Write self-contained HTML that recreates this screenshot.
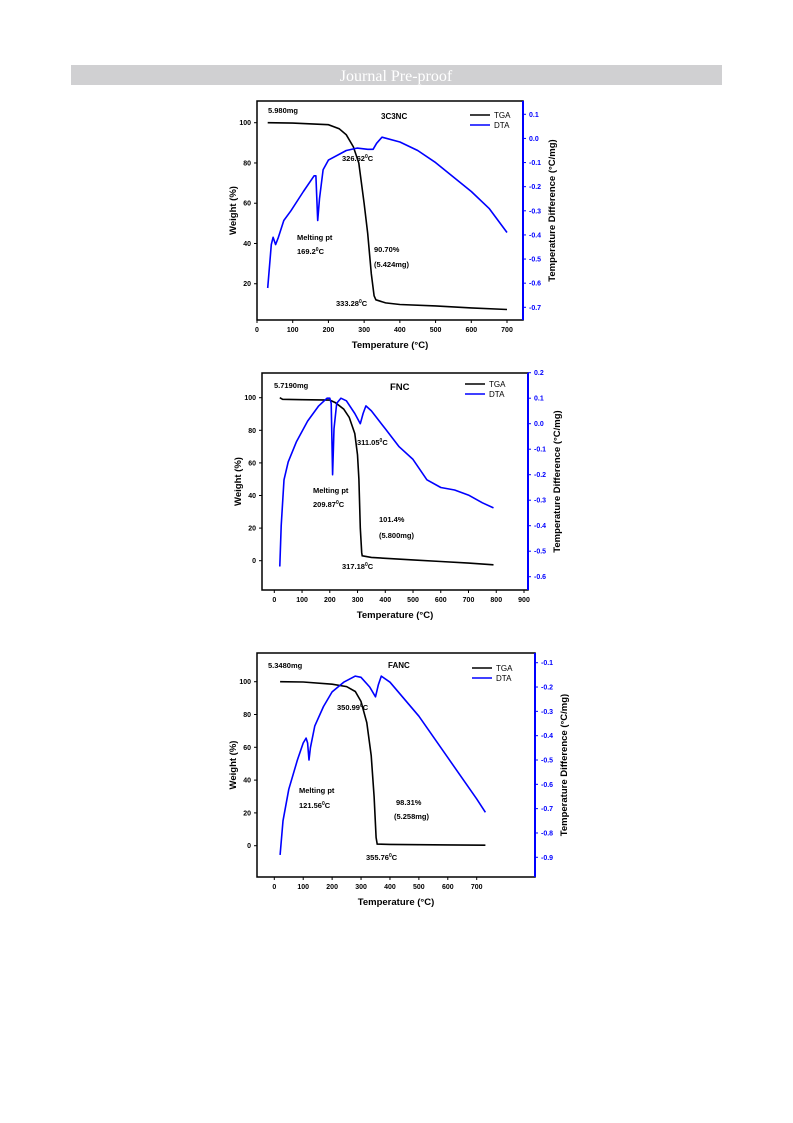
<!DOCTYPE html>
<html><head><meta charset="utf-8"><style>
body{margin:0;background:#fff;}
svg{display:block;font-family:"Liberation Sans",Arial,sans-serif;}
</style></head><body>
<svg id="page" width="793" height="1123" viewBox="0 0 793 1123">
<rect x="71" y="65" width="651" height="20" fill="#d0d0d2"/>
<text x="396" y="81" text-anchor="middle" fill="#fff" font-family="Liberation Serif,serif" font-size="16">Journal Pre-proof</text>
<g id="charts"></g>
</svg>
<script>
// ---- Chart 1: 3C3NC ----
const c1TgaT=[30,100,200,230,250,270,285,300,310,320,328,333,360,400,500,600,700];
const c1TgaW=[100,99.8,99,97,94,88,80,60,45,25,14,12,10.5,9.7,9,8,7.2];
const c1DtaT=[30,40,45,52,60,75,95,130,160,165,170,175,185,200,250,280,310,325,335,350,400,450,500,600,650,700];
const c1DtaV=[-0.62,-0.44,-0.41,-0.44,-0.41,-0.34,-0.3,-0.22,-0.155,-0.155,-0.34,-0.25,-0.13,-0.09,-0.05,-0.04,-0.045,-0.045,-0.02,0.005,-0.015,-0.05,-0.1,-0.22,-0.29,-0.39];
const c1XTicks=[0,100,200,300,400,500,600,700];
const c1YTicks=[20,40,60,80,100];
const c1RTicks=[0.1,0.0,-0.1,-0.2,-0.3,-0.4,-0.5,-0.6,-0.7];
// ---- Chart 2: FNC ----
const c2TgaT=[20,30,100,200,220,250,270,290,300,305,310,315,317,350,400,500,600,700,790];
const c2TgaW=[100,99,98.8,98.5,97,93,88,78,65,50,20,5,3,2,1.5,0.5,-0.5,-1.5,-2.5];
const c2DtaT=[20,25,35,50,80,120,160,190,200,205,210,215,225,240,260,290,310,320,330,350,400,450,500,550,600,650,700,750,790];
const c2DtaV=[-0.56,-0.4,-0.22,-0.15,-0.07,0.01,0.07,0.1,0.1,0.08,-0.2,-0.02,0.08,0.1,0.09,0.04,0.0,0.04,0.07,0.05,-0.02,-0.09,-0.14,-0.22,-0.25,-0.26,-0.28,-0.31,-0.33];
const c2XTicks=[0,100,200,300,400,500,600,700,800,900];
const c2YTicks=[0,20,40,60,80,100];
const c2RTicks=[0.2,0.1,0.0,-0.1,-0.2,-0.3,-0.4,-0.5,-0.6];
// ---- Chart 3: FANC ----
const c3TgaT=[20,100,200,250,280,300,320,335,345,352,356,400,600,730];
const c3TgaW=[100,99.8,98.5,97,94,88,75,55,30,5,1,0.8,0.5,0.3];
const c3DtaT=[20,30,50,80,100,110,115,120,125,140,170,200,240,280,300,330,350,360,370,400,500,600,700,730];
const c3DtaV=[-0.89,-0.75,-0.62,-0.5,-0.43,-0.41,-0.43,-0.5,-0.45,-0.36,-0.28,-0.22,-0.18,-0.155,-0.16,-0.2,-0.24,-0.19,-0.155,-0.18,-0.32,-0.49,-0.66,-0.715];
const c3XTicks=[0,100,200,300,400,500,600,700];
const c3YTicks=[0,20,40,60,80,100];
const c3RTicks=[-0.1,-0.2,-0.3,-0.4,-0.5,-0.6,-0.7,-0.8,-0.9];

const NS="http://www.w3.org/2000/svg";
const root=document.getElementById('charts');
function mk(tag,attrs,parent,txt){const e=document.createElementNS(NS,tag);for(const k in attrs)e.setAttribute(k,attrs[k]);if(txt!==undefined)e.textContent=txt;parent.appendChild(e);return e;}
function fmt(v){return (Math.abs(v)<1e-9?'0.0':v.toFixed(1));}

function drawChart(cfg){
  const g=mk('g',{},root);
  
  
  const sx=t=>cfg.x0+(t-cfg.xa)*(cfg.x1-cfg.x0)/(cfg.xb-cfg.xa);
  const sy=w=>cfg.y0+(w-cfg.ya)*(cfg.y1-cfg.y0)/(cfg.yb-cfg.ya);
  const sr=v=>cfg.r0+(v-cfg.ra)*(cfg.r1-cfg.r0)/(cfg.rb-cfg.ra);
  const box=mk('rect',{x:cfg.L,y:cfg.T,width:cfg.R-cfg.L,height:cfg.B-cfg.T,fill:'none',stroke:'#000','stroke-width':1.5},g);
  
  mk('line',{x1:cfg.R,y1:cfg.T,x2:cfg.R,y2:cfg.B,stroke:'#00f','stroke-width':2},g);
  cfg.xt.forEach(t=>{const x=sx(t);
    mk('line',{x1:x,y1:cfg.B,x2:x,y2:cfg.B+3,stroke:'#000'},g);
    const tl=mk('text',{x:x,y:cfg.B+12,'text-anchor':'middle','font-size':7,'font-weight':'bold'},g,t);
    });
  cfg.yt.forEach(w=>{const y=sy(w);
    mk('line',{x1:cfg.L-3,y1:y,x2:cfg.L,y2:y,stroke:'#000'},g);
    const tl=mk('text',{x:cfg.L-6,y:y+2.5,'text-anchor':'end','font-size':7,'font-weight':'bold'},g,w);
    });
  cfg.rt.forEach(v=>{const y=sr(v);
    mk('line',{x1:cfg.R,y1:y,x2:cfg.R+3,y2:y,stroke:'#00f'},g);
    const tl=mk('text',{x:cfg.R+6,y:y+2.5,'font-size':7,'font-weight':'bold',fill:'#00f'},g,fmt(v));
    });
  const xt=mk('text',{x:(cfg.L+cfg.R)/2,y:cfg.B+28,'text-anchor':'middle','font-size':9.5,'font-weight':'bold'},g,'Temperature (°C)');
  
  const yt=mk('text',{x:0,y:0,'text-anchor':'middle','font-size':9.5,'font-weight':'bold',transform:`translate(${cfg.L-21},${(cfg.T+cfg.B)/2}) rotate(-90)`},g,'Weight (%)');
  
  const rtt=mk('text',{x:0,y:0,'text-anchor':'middle','font-size':9.5,'font-weight':'bold',transform:`translate(${cfg.R+32},${(cfg.T+cfg.B)/2}) rotate(-90)`},g,'Temperature Difference (°C/mg)');
  
  const tga=mk('path',{d:cfg.tT.map((t,i)=>(i?'L':'M')+sx(t).toFixed(1)+','+sy(cfg.tW[i]).toFixed(1)).join(''),fill:'none',stroke:'#000','stroke-width':1.6},g);
  
  const dta=mk('path',{d:cfg.dT.map((t,i)=>(i?'L':'M')+sx(t).toFixed(1)+','+sr(cfg.dV[i]).toFixed(1)).join(''),fill:'none',stroke:'#00f','stroke-width':1.6,'stroke-linejoin':'round'},g);
  
  // legend
  const lg=mk('g',{},g);
  mk('line',{x1:cfg.lx,y1:cfg.ly,x2:cfg.lx+20,y2:cfg.ly,stroke:'#000','stroke-width':1.6},lg);
  mk('text',{x:cfg.lx+24,y:cfg.ly+3,'font-size':8},lg,'TGA');
  mk('line',{x1:cfg.lx,y1:cfg.ly+10,x2:cfg.lx+20,y2:cfg.ly+10,stroke:'#00f','stroke-width':1.6},lg);
  mk('text',{x:cfg.lx+24,y:cfg.ly+13,'font-size':8},lg,'DTA');
  cfg.ann.forEach(a=>{const e=mk('text',{x:a[0],y:a[1],'font-size':a[3]||7.5,'font-weight':'bold'},g);
    
    const parts=a[2].split('°');e.appendChild(document.createTextNode(parts[0]));
    if(parts.length>1){const s=mk('tspan',{dy:-3,'font-size':5},e,'0');mk('tspan',{dy:3},e,parts[1]);}});
}

drawChart({name:'chart-3c3nc',L:257,R:523,T:101,B:320,x0:257,x1:507,xa:0,xb:700,y0:324,y1:122.7,ya:0,yb:100,r0:114.3,r1:307.3,ra:0.1,rb:-0.7,
 xt:c1XTicks,yt:c1YTicks,rt:c1RTicks,tT:c1TgaT,tW:c1TgaW,dT:c1DtaT,dV:c1DtaV,lx:470,ly:115,
 ann:[[268,113,'5.980mg'],[381,119,'3C3NC',8],[342,161,'326.62°C'],[297,240,'Melting pt'],[297,254,'169.2°C'],[374,252,'90.70%'],[374,267,'(5.424mg)'],[336,306,'333.28°C']]});
drawChart({name:'chart-fnc',L:262,R:528,T:373,B:590,x0:274.3,x1:524,xa:0,xb:900,y0:560.7,y1:397.7,ya:0,yb:100,r0:372.7,r1:576.7,ra:0.2,rb:-0.6,
 xt:c2XTicks,yt:c2YTicks,rt:c2RTicks,tT:c2TgaT,tW:c2TgaW,dT:c2DtaT,dV:c2DtaV,lx:465,ly:384,
 ann:[[274,388,'5.7190mg'],[390,390,'FNC',9.5],[357,445,'311.05°C'],[313,493,'Melting pt'],[313,507,'209.87°C'],[379,522,'101.4%'],[379,538,'(5.800mg)'],[342,569,'317.18°C']]});
drawChart({name:'chart-fanc',L:257,R:535,T:653,B:877,x0:274.3,x1:476.7,xa:0,xb:700,y0:845.7,y1:681.7,ya:0,yb:100,r0:662.7,r1:857.3,ra:-0.1,rb:-0.9,
 xt:c3XTicks,yt:c3YTicks,rt:c3RTicks,tT:c3TgaT,tW:c3TgaW,dT:c3DtaT,dV:c3DtaV,lx:472,ly:668,
 ann:[[268,668,'5.3480mg'],[388,668,'FANC',8],[337,710,'350.99°C'],[299,793,'Melting pt'],[299,808,'121.56°C'],[396,805,'98.31%'],[394,819,'(5.258mg)'],[366,860,'355.76°C']]});
</script>
</body></html>
